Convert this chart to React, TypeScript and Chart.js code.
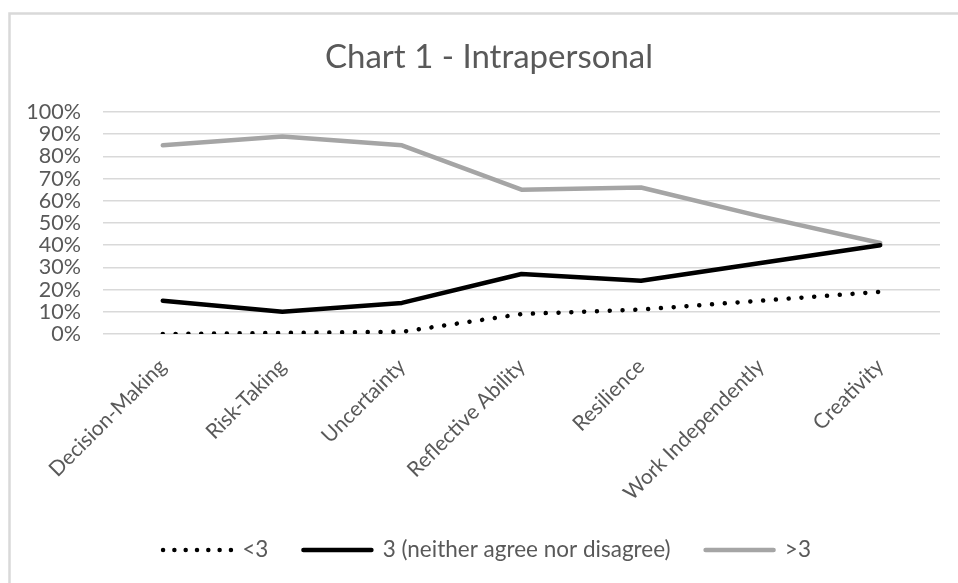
import React, { useEffect, useRef } from "react";
import { Chart, registerables } from "chart.js";

Chart.register(...registerables);

const categories = [
  "Decision-Making",
  "Risk-Taking",
  "Uncertainty",
  "Reflective Ability",
  "Resilience",
  "Work Independently",
  "Creativity",
];
const below3 = [0, 0.5, 1, 9, 11, 15, 19];
const neutral3 = [15, 10, 14, 27, 24, 32, 40];
const above3 = [85, 89, 85, 65, 66, 53, 41];
const yTicks = [0, 10, 20, 30, 40, 50, 60, 70, 80, 90, 100];
const seriesNames = ["<3", "3 (neither agree nor disagree)", ">3"];

const FONT = "Lato, 'Open Sans', sans-serif";
const TEXT = "#595959";

export default function App() {
  const ref = useRef<HTMLCanvasElement | null>(null);

  useEffect(() => {
    if (!ref.current) return;
    const frame = {
      id: "frame",
      beforeDraw(chart: any) {
        const ctx = chart.ctx;
        ctx.save();
        ctx.fillStyle = "#ffffff";
        ctx.fillRect(0, 0, chart.width, chart.height);
        ctx.strokeStyle = "#D9D9D9";
        ctx.lineWidth = 2.5;
        ctx.beginPath();
        ctx.moveTo(9.5, chart.height);
        ctx.lineTo(9.5, 13.5);
        ctx.lineTo(chart.width, 13.5);
        ctx.stroke();
        ctx.restore();
      },
      afterLayout(chart: any) {
        if (chart.legend) {
          chart.legend.left = 16;
          chart.legend.right = chart.width;
        }
        if (chart.titleBlock) {
          chart.titleBlock.left = 20;
          chart.titleBlock.right = chart.width;
        }
      },
    };

    const chart = new Chart(ref.current, {
      type: "line",
      data: {
        labels: categories,
        datasets: [
          {
            label: seriesNames[0],
            data: below3,
            borderColor: "#000000",
            backgroundColor: "#000000",
            borderWidth: 4.5,
            borderDash: [0.01, 12.8],
            borderCapStyle: "round",
            borderJoinStyle: "round",
            pointRadius: 0,
            tension: 0,
          },
          {
            label: seriesNames[1],
            data: neutral3,
            borderColor: "#000000",
            backgroundColor: "#000000",
            borderWidth: 4.5,
            borderCapStyle: "round",
            borderJoinStyle: "round",
            pointRadius: 0,
            tension: 0,
          },
          {
            label: seriesNames[2],
            data: above3,
            borderColor: "#A5A5A5",
            backgroundColor: "#A5A5A5",
            borderWidth: 4.5,
            borderCapStyle: "round",
            borderJoinStyle: "round",
            pointRadius: 0,
            tension: 0,
          },
        ],
      },
      options: {
        responsive: false,
        animation: false,
        layout: { padding: { left: 0, right: 18, top: 0, bottom: 11.75 } },
        plugins: {
          title: {
            display: true,
            text: "Chart 1 - Intrapersonal",
            color: TEXT,
            font: { family: FONT, size: 33, weight: "normal" },
            padding: { top: 37.2, bottom: 35.2 },
          },
          legend: {
            position: "bottom",
            align: "center",
            labels: {
              color: TEXT,
              font: { family: FONT, size: 22.5 },
              padding: 35,
              usePointStyle: true,
              pointStyle: "line",
              pointStyleWidth: 68,
              generateLabels(chart: any) {
                return chart.data.datasets.map((ds: any, i: number) => ({
                  text: ds.label,
                  fillStyle: ds.borderColor,
                  strokeStyle: ds.borderColor,
                  lineWidth: ds.borderWidth,
                  lineDash: i === 0 ? [0.01, 11.3] : [],
                  lineCap: "round",
                  pointStyle: "line",
                  fontColor: TEXT,
                  hidden: false,
                  datasetIndex: i,
                }));
              },
            },
          },
          tooltip: { enabled: false },
        },
        scales: {
          x: {
            offset: true,
            grid: { display: false },
            border: { display: false },
            ticks: {
              color: TEXT,
              font: { family: FONT, size: 21 },
              minRotation: 45,
              maxRotation: 45,
              autoSkip: false,
              padding: 12,
            },
            afterFit(scale: any) {
              scale.height = 169.75;
            },
          },
          y: {
            min: 0,
            max: 100,
            border: { display: false },
            grid: { color: "#D9D9D9", lineWidth: 1.5, drawTicks: false },
            afterBuildTicks(scale: any) {
              scale.ticks = yTicks.map((v) => ({ value: v }));
            },
            ticks: {
              color: TEXT,
              font: { family: FONT, size: 21.5 },
              padding: 22,
              autoSkip: false,
              callback: (v: any) => `${v}%`,
            },
            afterFit(scale: any) {
              scale.width = 103;
            },
          },
        },
      },
      plugins: [frame],
    } as any);
    return () => chart.destroy();
  }, []);

  return (
    <div style={{ position: "absolute", left: 0, top: 0, width: 958, height: 583, background: "#fff" }}>
      <canvas ref={ref} width={958} height={583} style={{ display: "block" }} />
    </div>
  );
}
